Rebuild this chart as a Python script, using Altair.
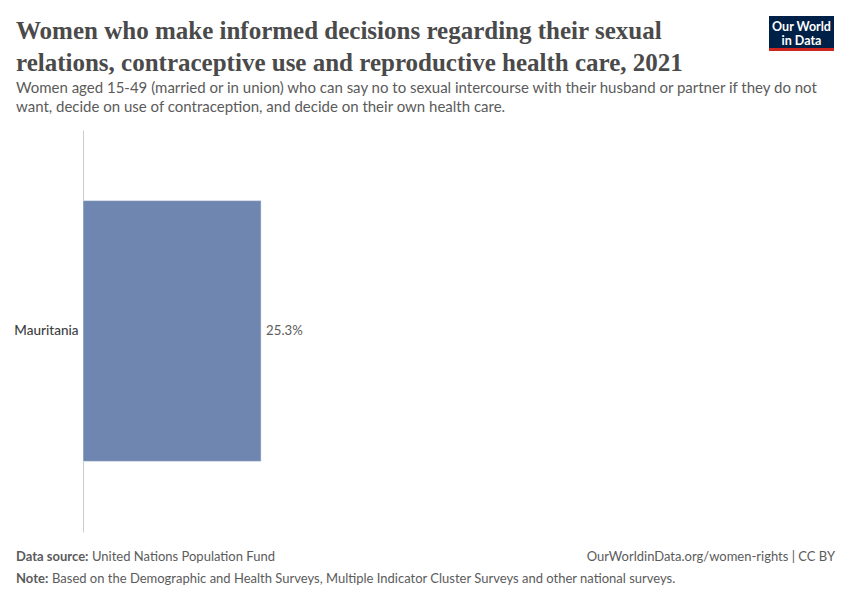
import altair as alt
import pandas as pd

countries = ["Mauritania"]
values = [25.3]
value_labels = ["25.3%"]

title_lines = [
    "Women who make informed decisions regarding their sexual",
    "relations, contraceptive use and reproductive health care, 2021",
]
subtitle_lines = [
    "Women aged 15-49 (married or in union) who can say no to sexual intercourse with their husband or partner if they do not",
    "want, decide on use of contraception, and decide on their own health care.",
]

df = pd.DataFrame({"country": countries, "value": values, "label": value_labels})

base = alt.Chart(df)

bars = base.mark_bar(color="#6f87b0", stroke="#ffffff", strokeWidth=0.5).encode(
    x=alt.X("value:Q", axis=None, scale=alt.Scale(domain=[0, 100], nice=False)),
    y=alt.Y(
        "country:N",
        title=None,
        scale=alt.Scale(paddingInner=0.213, paddingOuter=0.213),
        axis=alt.Axis(
            ticks=False,
            domainColor="#cccccc",
            labelFont="Lato",
            labelFontSize=13.5,
            labelFontWeight=500,
            labelColor="#3d3d3d",
            labelPadding=5,
        ),
    ),
)

labels = base.mark_text(
    align="left", baseline="middle", dx=5, font="Lato", fontSize=13.2, color="#5b5b5b"
).encode(x="value:Q", y="country:N", text="label:N")


def txt(s, x, y, size, color, font="Lato", weight="normal", align="left"):
    return base.mark_text(
        align=align, baseline="alphabetic", font=font, fontSize=size,
        color=color, fontWeight=weight,
    ).encode(x=alt.value(x), y=alt.value(y), text=alt.value(s))


layers = [bars, labels]
layers.append(txt(title_lines[0], -67, -91, 25, "#4a4a4a", font="Liberation Serif", weight="bold"))
layers.append(txt(title_lines[1], -67, -59, 25, "#4a4a4a", font="Liberation Serif", weight="bold"))
layers.append(txt(subtitle_lines[0], -67, -37, 15, "#5b5b5b"))
layers.append(txt(subtitle_lines[1], -67, -18, 15, "#5b5b5b"))

# footer
layers.append(txt("Data source:", -67, 431, 13, "#5b5b5b", weight="bold"))
layers.append(txt("United Nations Population Fund", 9, 431, 13, "#5b5b5b"))
layers.append(txt("OurWorldinData.org/women-rights | CC BY", 752, 431, 13, "#5b5b5b", align="right"))
layers.append(txt("Note:", -67, 453, 13, "#5b5b5b", weight="bold"))
layers.append(txt("Based on the Demographic and Health Surveys, Multiple Indicator Cluster Surveys and other national surveys.", -31, 453, 13, "#5b5b5b"))

# logo
logo_bg = base.mark_rect(color="#002147").encode(
    x=alt.value(686), x2=alt.value(751), y=alt.value(-114), y2=alt.value(-79)
)
logo_red = base.mark_rect(color="#ce261e").encode(
    x=alt.value(686), x2=alt.value(751), y=alt.value(-82), y2=alt.value(-79)
)
layers += [logo_bg, logo_red]
layers.append(txt("Our World", 718.5, -99, 12.5, "#ffffff", weight="bold", align="center"))
layers.append(txt("in Data", 718.5, -85, 12.5, "#ffffff", weight="bold", align="center"))

chart = alt.layer(*layers).properties(
    width=704,
    height=402,
    autosize=alt.AutoSizeParams(type="none"),
    padding={"left": 75, "top": 122, "right": 55, "bottom": 60},
).configure(background="#ffffff").configure_view(stroke=None, strokeWidth=0)

chart.save("out.html", embed_options={"renderer": "svg", "actions": False})
